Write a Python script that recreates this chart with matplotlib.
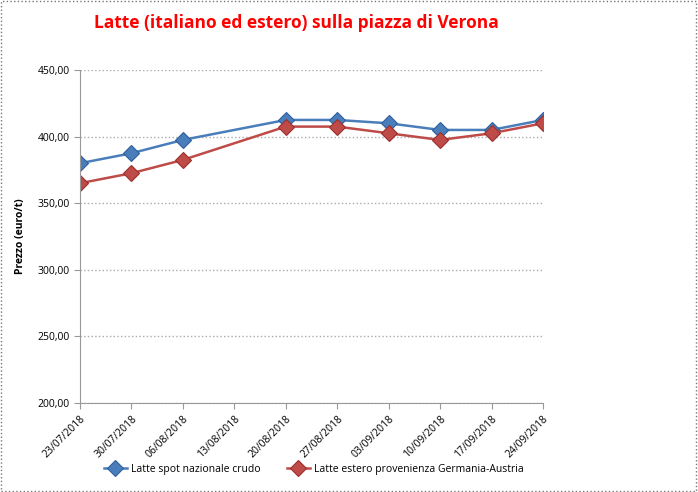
import numpy as np
import matplotlib.pyplot as plt
from matplotlib.ticker import FuncFormatter
from matplotlib.patches import Rectangle

plt.rcParams['font.family'] = ['Open Sans', 'DejaVu Sans']

dates = ['23/07/2018', '30/07/2018', '06/08/2018', '13/08/2018', '20/08/2018',
         '27/08/2018', '03/09/2018', '10/09/2018', '17/09/2018', '24/09/2018']
nazionale = [380, 387.5, 397.5, np.nan, 412.5, 412.5, 410, 405, 405, 412.5]
estero = [365, 372.5, 382.5, np.nan, 407.5, 407.5, 402.5, 397.5, 402.5, 410]

fig = plt.figure(figsize=(6.98, 4.92), dpi=100)
ax = fig.add_axes([80/698, 1-403/492, (543-80)/698, (403-70)/492])

x = np.arange(len(dates))
series = [(nazionale, 'Latte spot nazionale crudo', '#4a7ebb', '#2d5f9e'),
          (estero, 'Latte estero provenienza Germania-Austria', '#be4b48', '#9c2f2c')]
for vals, lab, col, edge in series:
    v = np.array(vals, dtype=float)
    ok = ~np.isnan(v)
    ax.plot(x[ok], v[ok], color=col, lw=1.8, marker='D', ms=8,
            mfc=col, mec=edge, mew=0.8, label=lab)

ax.set_xlim(0, len(dates) - 1)
ax.set_ylim(200, 450)
ax.set_yticks(np.arange(200, 451, 50))
ax.yaxis.set_major_formatter(FuncFormatter(lambda v, p: f'{v:.2f}'.replace('.', ',')))
ax.set_xticks(x)
ax.set_xticklabels(dates, rotation=45, ha='right', rotation_mode='anchor', fontsize=7.5)
ax.tick_params(axis='y', labelsize=7.5, length=4, color='#999999')
ax.tick_params(axis='x', length=4, color='#999999')

ax.grid(axis='y', color='#aaaaaa', ls=':', lw=1)
ax.set_axisbelow(True)
for s in ['top', 'right']:
    ax.spines[s].set_visible(False)
ax.spines['left'].set_color('#999999')
ax.spines['bottom'].set_color('#999999')

ax.set_ylabel('Prezzo (euro/t)', fontsize=7.5, fontweight='bold', labelpad=8)
fig.text(0.425, 0.953, 'Latte (italiano ed estero) sulla piazza di Verona',
         ha='center', va='center', color='#ff0000', fontsize=12.5, fontweight='bold')

ax.legend(loc='upper center', bbox_to_anchor=(0.505, -0.155), ncol=2, frameon=False,
          fontsize=7.5, columnspacing=2.5, handlelength=2.2, handletextpad=0.4)

fig.patches.append(Rectangle((0.002, 0.003), 0.995, 0.994, transform=fig.transFigure,
                             fill=False, ec='#777777', ls=':', lw=1))

fig.savefig('out.png', dpi=100)
